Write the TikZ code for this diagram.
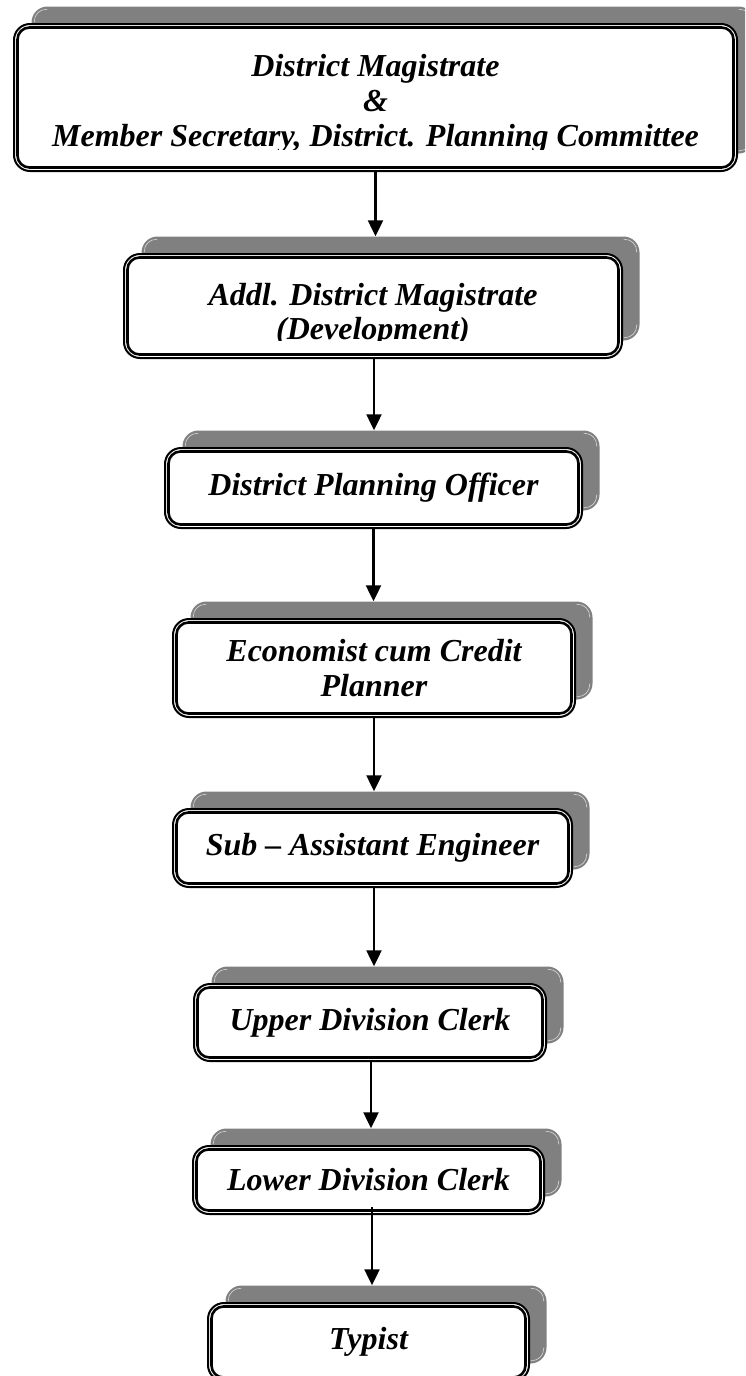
\documentclass[tikz,border=0pt]{standalone}
\usepackage{fontspec}
\setmainfont{Liberation Serif}
\usetikzlibrary{arrows.meta}
\definecolor{shadowgray}{HTML}{808080}
\definecolor{hlgray}{HTML}{DADADA}
\newcommand\orgfont{\fontsize{32}{35}\selectfont\bfseries\itshape}
\tikzset{
  orgshadow/.style={fill=shadowgray, draw=none, rounded corners=16pt, inner sep=0pt},
  orgbox/.style={draw=black, line width=2pt, fill=white, rounded corners=16pt, inner sep=0pt, align=center, font=\orgfont},
  orgtext/.style={inner sep=0pt, align=center, font=\orgfont},
  innerline/.style={draw=black, line width=2.6pt, rounded corners=12pt},
  highlight/.style={draw=hlgray, line width=0.6pt, rounded corners=12pt},
  conn/.style={line width=2.2pt, -{Triangle[length=16pt,width=15pt]}},
}
\newcommand\orginner[1]{\draw[innerline] ([shift={(4.5,4.5)}]#1.north west) rectangle ([shift={(-4.5,-4.5)}]#1.south east);}
\newcommand\orghl[1]{%
  \begin{scope}
    \clip (#1.north west) rectangle ([shift={(16,16)}]#1.north west)
          ([shift={(-16,0)}]#1.north east) rectangle ([shift={(0,16)}]#1.north east)
          ([shift={(-16,-16)}]#1.south east) rectangle (#1.south east);
    \draw[highlight] ([shift={(3,3)}]#1.north west) rectangle ([shift={(-3,-3)}]#1.south east);
  \end{scope}}
\begin{document}
\begin{tikzpicture}[x=1pt,y=-1pt]
\useasboundingbox (0,0) rectangle (745,1376);
\fill[white] (0,0) rectangle (745,1376);
\clip (0,0) rectangle (745,1376);

% shadows
\node[orgshadow, minimum width=723pt, minimum height=147pt] (s1) at (393,80) {};
\node[orgshadow, minimum width=498pt, minimum height=104pt] (s2) at (390.5,288.5) {};
\node[orgshadow, minimum width=417pt, minimum height=80pt] (s3) at (391,470.5) {};
\node[orgshadow, minimum width=402pt, minimum height=98pt] (s4) at (391.5,650.5) {};
\node[orgshadow, minimum width=399pt, minimum height=78pt] (s5) at (390,830.5) {};
\node[orgshadow, minimum width=352pt, minimum height=77pt] (s6) at (387.5,1005) {};
\node[orgshadow, minimum width=351pt, minimum height=68pt] (s7) at (386,1162.5) {};
\node[orgshadow, minimum width=321pt, minimum height=78pt] (s8) at (386,1324.5) {};
\orghl{s1}\orghl{s2}\orghl{s3}\orghl{s4}\orghl{s5}\orghl{s6}\orghl{s7}\orghl{s8}

% boxes
\node[orgbox, minimum width=723pt, minimum height=147pt] (b1) at (375.5,97.5) {};
\node[orgbox, minimum width=498pt, minimum height=104pt] (b2) at (373,306) {};
\node[orgbox, minimum width=417pt, minimum height=80pt] (b3) at (373.5,488) {District Planning Officer};
\node[orgbox, minimum width=402pt, minimum height=98pt] (b4) at (374,668) {Economist cum Credit\\Planner};
\node[orgbox, minimum width=399pt, minimum height=78pt] (b5) at (372.5,848) {Sub – Assistant Engineer};
\node[orgbox, minimum width=352pt, minimum height=77pt] (b6) at (370,1022.5) {Upper Division Clerk};
\node[orgbox, minimum width=351pt, minimum height=68pt] (b7) at (368.5,1180) {Lower Division Clerk};
\node[orgbox, minimum width=321pt, minimum height=78pt] (b8) at (368.5,1342) {Typist};
\orginner{b1}\orginner{b2}\orginner{b3}\orginner{b4}\orginner{b5}\orginner{b6}\orginner{b7}\orginner{b8}

% clipped texts of the two top boxes
\begin{scope}
  \clip (13,23) rectangle (738,149.5);
  \node[orgtext] (t1) at (375.5,104) {District Magistrate\\\&\\Member Secretary, District. Planning Committee};
\end{scope}
\begin{scope}
  \clip (123,253) rectangle (623,340.5);
  \node[orgtext, font=\fontsize{32}{34}\selectfont\bfseries\itshape] (t2) at (373,314.5) {Addl. District Magistrate\\(Development)};
\end{scope}

% connectors
\draw[conn] (b1.south) -- (b1.south |- s2.north);
\draw[conn] ([xshift=1pt]b2.south) -- ([xshift=1pt]b2.south |- s3.north);
\draw[conn] (b3.south) -- (b3.south |- s4.north);
\draw[conn] (b4.south) -- (b4.south |- s5.north);
\draw[conn] ([xshift=1.5pt]b5.south) -- ([xshift=1.5pt]b5.south |- s6.north);
\draw[conn] ([xshift=1pt]b6.south) -- ([xshift=1pt]b6.south |- s7.north);
\draw[conn] ([xshift=3.5pt,yshift=8pt]b7.south) -- ([xshift=3.5pt]b7.south |- s8.north);
\end{tikzpicture}
\end{document}
